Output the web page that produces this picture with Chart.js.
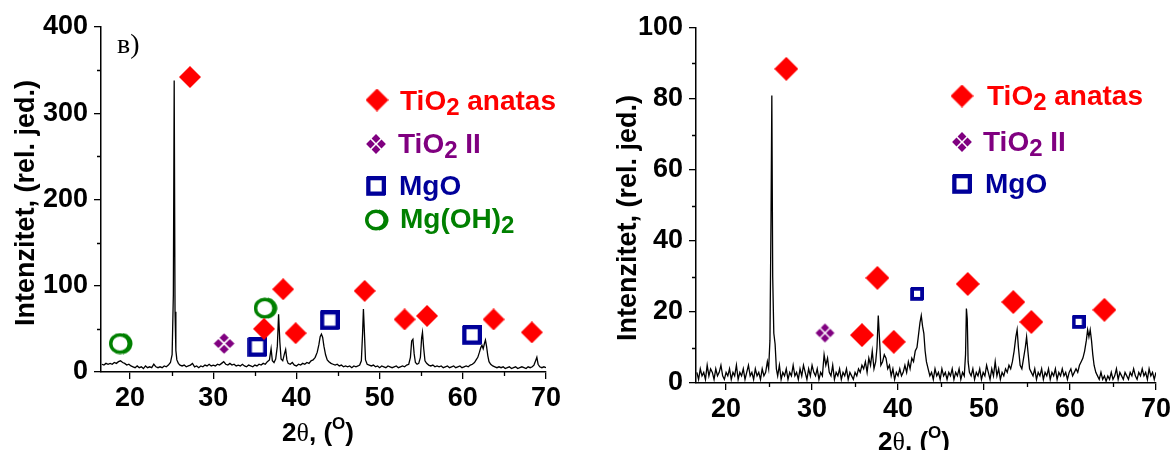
<!DOCTYPE html>
<html><head><meta charset="utf-8">
<script src="https://cdn.jsdelivr.net/npm/chart.js@4.4.0/dist/chart.umd.min.js"></script>
<style>
html,body{margin:0;padding:0;background:#fff;width:1174px;height:450px;overflow:hidden}
.p{position:absolute;top:0;height:450px}
#wl{left:0;width:590px}
#wr{left:590px;width:584px}
</style></head><body>
<div class="p" id="wl"><canvas id="cl"></canvas></div>
<div class="p" id="wr"><canvas id="cr"></canvas></div>
<script>
// ---------- axis ticks ----------
const xTicks = [20, 30, 40, 50, 60, 70];
const xMinor = [25, 35, 45, 55, 65];
const yTicksL = [0, 100, 200, 300, 400];
const yMinorL = [50, 150, 250, 350];
const yTicksR = [0, 20, 40, 60, 80, 100];
const yMinorR = [10, 30, 50, 70, 90];

// ---------- panel в) pattern ----------
const xL = [
16.6,16.85,17.1,17.35,17.6,17.85,18.1,18.35,18.6,18.85,
19.1,19.35,19.6,19.85,20.1,20.35,20.6,20.85,21.1,21.35,
21.6,21.85,22.1,22.35,22.6,22.85,23.1,23.35,23.6,23.85,
24.1,24.35,24.6,24.85,25.05,25.2,25.3,25.4,25.5,25.62,
25.8,26.0,26.25,26.5,26.75,27.0,27.25,27.5,27.75,28.0,
28.25,28.5,28.75,29.0,29.25,29.5,29.75,30.0,30.25,30.5,
30.75,31.0,31.25,31.5,31.75,32.0,32.25,32.5,32.75,33.0,
33.25,33.5,33.75,34.0,34.25,34.5,34.75,35.0,35.25,35.5,
35.75,36.0,36.25,36.5,36.75,36.95,37.1,37.3,37.5,37.7,
37.85,38.0,38.15,38.35,38.55,38.7,38.85,39.0,39.25,39.5,
39.75,40.0,40.25,40.5,40.75,41.0,41.25,41.5,41.75,42.0,
42.25,42.5,42.7,42.85,43.0,43.15,43.3,43.5,43.7,43.9,
44.15,44.4,44.65,44.9,45.15,45.4,45.65,45.9,46.15,46.4,
46.65,46.9,47.15,47.4,47.6,47.8,47.95,48.05,48.15,48.3,
48.5,48.75,49.0,49.25,49.5,49.75,50.0,50.25,50.5,50.75,
51.0,51.25,51.5,51.75,52.0,52.25,52.5,52.75,53.0,53.25,
53.5,53.7,53.85,54.0,54.15,54.3,54.5,54.7,54.9,55.05,
55.15,55.3,55.45,55.65,55.9,56.15,56.4,56.65,56.9,57.15,
57.4,57.65,57.9,58.15,58.4,58.65,58.9,59.15,59.4,59.65,
59.9,60.15,60.4,60.65,60.9,61.15,61.4,61.6,61.8,62.0,
62.15,62.3,62.45,62.6,62.72,62.85,63.0,63.15,63.35,63.6,
63.85,64.1,64.35,64.6,64.85,65.1,65.35,65.6,65.85,66.1,
66.35,66.6,66.85,67.1,67.35,67.6,67.85,68.1,68.35,68.55,
68.75,68.9,69.05,69.25,69.5,69.75,70.0];
const yL = [
9,8,10,9,10,9,11,10,12,13,
11,10,8,9,7,6,5,7,5,6,
4,7,5,6,5,9,6,5,6,5,
7,6,8,11,20,90,338,70,25,14,
10,8,7,8,6,7,8,10,6,7,
5,7,6,8,7,9,7,8,7,9,
8,10,12,9,8,10,8,9,7,8,
7,9,7,6,8,7,6,8,7,9,
8,10,9,12,14,27,13,11,15,30,
67,35,15,13,21,26,14,10,9,11,
8,7,9,8,10,9,11,10,13,14,
17,23,32,41,44,40,30,20,14,12,
10,9,8,9,7,8,6,7,6,7,
5,7,6,7,8,13,45,73,50,14,
9,8,7,8,6,7,5,7,6,5,
7,6,5,6,7,5,6,7,6,8,
9,17,36,38,21,11,9,10,17,40,
46,27,13,10,8,7,8,6,7,6,
7,5,6,7,5,6,7,5,6,7,
5,6,7,6,8,9,11,14,17,23,
28,31,27,33,37,30,19,12,9,7,
6,5,6,5,6,4,5,6,4,5,
6,4,5,6,5,4,6,5,6,8,
13,17,9,6,5,6,5];

// ---------- panel в) phase markers ----------
const anatasLx = [27.2, 36.1, 38.4, 39.9, 48.2, 53.0, 55.7, 63.7, 68.3];
const anatasLy = [342, 50, 96, 45, 94, 61, 65, 61, 46];
const tio2IILx = [31.3];
const tio2IILy = [33];
const mgoLx = [35.3, 44.0, 61.1];
const mgoLy = [29, 60, 43];
const mgohLx = [18.9, 36.3];
const mgohLy = [33, 74];

// ---------- panel г) pattern ----------
const xR = [
16.6,16.8,17.0,17.2,17.4,17.6,17.8,18.0,18.2,18.4,
18.6,18.8,19.0,19.2,19.4,19.6,19.8,20.0,20.2,20.4,
20.6,20.8,21.0,21.2,21.4,21.6,21.8,22.0,22.2,22.4,
22.6,22.8,23.0,23.2,23.4,23.6,23.8,24.0,24.2,24.4,
24.6,24.8,24.95,25.1,25.22,25.32,25.42,25.55,25.7,25.85,
26.0,26.2,26.4,26.6,26.8,27.0,27.2,27.4,27.6,27.8,
28.0,28.2,28.4,28.6,28.8,29.0,29.2,29.4,29.6,29.8,
30.0,30.2,30.4,30.6,30.8,31.0,31.2,31.4,31.6,31.8,
32.0,32.2,32.4,32.6,32.8,33.0,33.2,33.4,33.6,33.8,
34.0,34.2,34.4,34.6,34.8,35.0,35.2,35.4,35.6,35.8,
36.0,36.2,36.4,36.6,36.8,37.0,37.2,37.4,37.55,37.7,
37.85,38.0,38.2,38.4,38.6,38.8,39.0,39.2,39.4,39.6,
39.8,40.0,40.2,40.4,40.6,40.8,41.0,41.2,41.4,41.6,
41.8,42.0,42.2,42.4,42.55,42.7,42.85,43.0,43.15,43.3,
43.5,43.7,43.9,44.1,44.3,44.5,44.7,44.9,45.1,45.3,
45.5,45.7,45.9,46.1,46.3,46.5,46.7,46.9,47.1,47.3,
47.5,47.7,47.85,47.95,48.05,48.15,48.3,48.5,48.7,48.9,
49.1,49.3,49.5,49.7,49.9,50.1,50.3,50.5,50.7,50.9,
51.1,51.3,51.5,51.7,51.9,52.1,52.3,52.5,52.7,52.9,
53.1,53.3,53.5,53.7,53.85,54.0,54.2,54.4,54.6,54.8,
54.95,55.1,55.3,55.5,55.7,55.9,56.1,56.3,56.5,56.7,
56.9,57.1,57.3,57.5,57.7,57.9,58.1,58.3,58.5,58.7,
58.9,59.1,59.3,59.5,59.7,59.9,60.1,60.3,60.5,60.7,
60.9,61.1,61.3,61.5,61.7,61.9,62.05,62.2,62.35,62.5,
62.65,62.8,63.0,63.2,63.4,63.6,63.8,64.0,64.2,64.4,
64.6,64.8,65.0,65.2,65.4,65.6,65.8,66.0,66.2,66.4,
66.6,66.8,67.0,67.2,67.4,67.6,67.8,68.0,68.2,68.4,
68.6,68.8,69.0,69.2,69.4,69.6,69.8,70.0];
const yR = [
3,1,4,2,3,1,5,2,4,3,
1,4,2,3,5,2,1,3,2,4,
1,3,2,5,1,3,2,4,1,3,
5,2,3,1,4,2,3,1,4,2,
3,6,4,12,45,81,30,14,11,4,
2,5,1,3,2,4,1,3,2,5,
2,3,1,4,2,5,3,1,4,2,
5,3,2,4,1,3,2,8,5,7,
3,2,5,1,3,2,4,1,3,2,
4,1,3,2,1,3,2,4,3,5,
4,6,3,7,5,9,4,6,10,19,
12,5,6,8,7,4,5,2,4,1,
3,2,4,2,3,5,3,6,4,7,
6,9,10,14,17,19,16,14,9,6,
4,2,3,1,4,2,3,1,4,2,
3,1,3,2,4,1,3,2,4,1,
3,2,8,21,18,6,3,2,4,1,
3,2,4,1,3,2,5,3,1,4,
2,6,2,4,1,3,2,4,3,5,
4,6,9,13,15,10,5,4,7,10,
13,9,4,3,2,4,1,3,2,4,
1,3,2,4,1,3,2,4,1,3,
2,4,2,3,1,3,4,2,3,4,
3,5,6,7,9,12,15,13,15,12,
8,5,3,2,1,3,1,2,0.5,2,
1,3,1,2,4,1,3,2,1,3,
2,1,3,2,4,2,1,3,2,4,
2,3,1,4,2,3,1,3];

// ---------- panel г) phase markers ----------
const anatasRx = [27.0, 35.8, 37.6, 39.5, 48.1, 53.4, 55.5, 64.0];
const anatasRy = [88.5, 13.5, 29.6, 11.6, 27.9, 22.8, 17.2, 20.6];
const tio2IIRx = [31.5];
const tio2IIRy = [14.1];
const mgoRx = [42.2, 61.0];
const mgoRy = [25.1, 17.2];

// ---------- text ----------
const yTitle = 'Intenzitet, (rel. jed.)';
const xTitleParts = ['2', 'θ', ', (', 'O', ')'];
const legendL = [
  [{t:'TiO'},{t:'2',sub:true},{t:' anatas'}],
  [{t:'TiO'},{t:'2',sub:true},{t:' II'}],
  [{t:'MgO'}],
  [{t:'Mg(OH)'},{t:'2',sub:true}]
];
const legendR = legendL.slice(0, 3);

// ---------- styles ----------
const SANS = '"Liberation Sans", Arial, sans-serif';
const SERIF = '"Liberation Serif", "Times New Roman", serif';
const RED = '#ff0000', PURPLE = '#800080', BLUE = '#00009a', GREEN = '#008000';

function mk(w, h, fn) {
  const c = document.createElement('canvas');
  c.width = w; c.height = h;
  fn(c.getContext('2d'), w, h);
  return c;
}
function diamond(d, color) {
  return mk(d, d, (g) => {
    g.fillStyle = color; g.beginPath();
    g.moveTo(d/2, 0); g.lineTo(d, d/2); g.lineTo(d/2, d); g.lineTo(0, d/2); g.closePath(); g.fill();
  });
}
function clover(d, color) {
  return mk(d, d, (g) => {
    g.fillStyle = color;
    const s = d/4, r = s*0.8;
    [[d/2, d/2 - s],[d/2 + s, d/2],[d/2, d/2 + s],[d/2 - s, d/2]].forEach(([cx, cy]) => {
      g.beginPath(); g.moveTo(cx, cy - r); g.lineTo(cx + r, cy); g.lineTo(cx, cy + r); g.lineTo(cx - r, cy); g.closePath(); g.fill();
    });
  });
}
function square(d, lw, color) {
  return mk(d, d, (g) => {
    g.strokeStyle = color; g.lineWidth = lw;
    g.strokeRect(lw/2 + 1, lw/2, d - lw - 1, d - lw - 1);
    g.strokeRect(lw/2 + 0.2, lw/2 + 0.8, d - lw - 1, d - lw - 1);
  });
}
function ring(d, lw, color) {
  return mk(d + 2, d, (g) => {
    g.strokeStyle = color; g.lineWidth = lw;
    g.beginPath(); g.ellipse(d/2, d/2, d/2 - lw/2, d/2 - lw/2 - 0.5, 0, 0, Math.PI*2); g.stroke();
    g.beginPath(); g.ellipse(d/2 + 1.5, d/2, d/2 - lw/2, d/2 - lw/2 - 0.5, 0, -Math.PI/2.2, Math.PI/2.2); g.stroke();
  });
}

const pts = (xs, ys) => xs.map((x, i) => ({x, y: ys[i]}));
function markerSet(xs, ys, img) {
  return {type:'scatter', data: pts(xs, ys), pointStyle: img, pointRadius: 10, pointHoverRadius: 10, showLine:false, clip:false};
}
function lineSet(xs, ys) {
  return {type:'line', data: pts(xs, ys), borderColor:'#000', borderWidth:1.3, pointRadius:0, tension:0, fill:false, clip:true};
}

function drawRich(ctx, parts, x, y, size, color) {
  ctx.fillStyle = color; ctx.textAlign = 'left'; ctx.textBaseline = 'alphabetic';
  let cx = x;
  for (const p of parts) {
    const s = p.sub ? Math.round(size*0.86) : size;
    ctx.font = `bold ${s}px ${SANS}`;
    ctx.fillText(p.t, cx, y + (p.sub ? size*0.19 : 0));
    cx += ctx.measureText(p.t).width;
  }
}

function drawXTitle(ctx, cx, base) {
  const fonts = [`bold 26px ${SANS}`, `26px ${SERIF}`, `bold 26px ${SANS}`, `bold 17px ${SANS}`, `bold 26px ${SANS}`];
  const dys = [0, 0, 0, -12, 0];
  let w = 0;
  xTitleParts.forEach((t, i) => { ctx.font = fonts[i]; w += ctx.measureText(t).width; });
  let x = cx - w/2;
  ctx.fillStyle = '#000'; ctx.textAlign = 'left'; ctx.textBaseline = 'alphabetic';
  xTitleParts.forEach((t, i) => { ctx.font = fonts[i]; ctx.fillText(t, x, base + dys[i]); x += ctx.measureText(t).width; });
}

function deco(cfg) {
  return {
    id: 'deco',
    afterDraw(chart) {
      const ctx = chart.ctx, xs = chart.scales.x, ys = chart.scales.y, a = chart.chartArea;
      ctx.save();
      ctx.strokeStyle = '#000'; ctx.lineWidth = 1.3;
      ctx.beginPath();
      xMinor.forEach(v => { const p = Math.round(xs.getPixelForValue(v)) + 0.5; ctx.moveTo(p, a.bottom); ctx.lineTo(p, a.bottom + 4); });
      cfg.yMinor.forEach(v => { const p = Math.round(ys.getPixelForValue(v)) + 0.5; ctx.moveTo(a.left, p); ctx.lineTo(a.left - 4, p); });
      ctx.stroke();
      // panel label
      ctx.fillStyle = '#000'; ctx.font = `28px ${SERIF}`; ctx.textAlign = 'left'; ctx.textBaseline = 'alphabetic';
      ctx.fillText(cfg.panel, cfg.panelX, cfg.panelY);
      // y title
      ctx.save();
      ctx.translate(cfg.yTitleX, cfg.yTitleY); ctx.rotate(-Math.PI/2);
      ctx.font = `bold 27px ${SANS}`; ctx.textAlign = 'center'; ctx.textBaseline = 'middle';
      ctx.fillText(yTitle, 0, 0);
      ctx.restore();
      // x title
      drawXTitle(ctx, cfg.xTitleX, cfg.xTitleY);
      // legend
      cfg.legend.forEach((parts, i) => {
        const it = cfg.legendItems[i];
        ctx.drawImage(it.img, it.mx - it.img.width/2, it.my - it.img.height/2);
        drawRich(ctx, parts, it.tx, it.ty, 28, it.color);
      });
      ctx.restore();
    }
  };
}

function makeChart(id, cfg) {
  const tickFont = {family: SANS, size: 27, weight: 'bold'};
  const grid = {display:true, drawOnChartArea:false, drawTicks:true, tickLength:7, color:'#000', lineWidth:1.3};
  const border = {display:true, color:'#000', width:1.5};
  return new Chart(document.getElementById(id), {
    type: 'scatter',
    data: {datasets: cfg.datasets},
    options: {
      responsive: true, maintainAspectRatio: false, animation: false, devicePixelRatio: 1,
      layout: {padding: {left:0, right: cfg.padR, top: cfg.padT, bottom: 0}},
      plugins: {legend: {display:false}, tooltip: {enabled:false}},
      events: [],
      scales: {
        x: {type:'linear', min:16.5, max:70,
            afterBuildTicks: s => { s.ticks = xTicks.map(v => ({value: v})); },
            afterFit: s => { s.height = cfg.xH; },
            ticks: {font: tickFont, color:'#000', padding: 3, maxRotation: 0, autoSkip: false},
            grid, border},
        y: {type:'linear', min:0, max: cfg.yMax,
            afterBuildTicks: s => { s.ticks = cfg.yTicks.map(v => ({value: v})); },
            afterFit: s => { s.width = cfg.yW; },
            ticks: {font: tickFont, color:'#000', padding: 6, autoSkip: false},
            grid, border}
      }
    },
    plugins: [deco(cfg)]
  });
}

// left panel
const dL = diamond(22, RED), cL = clover(23, PURPLE), sL = square(20, 3.5, BLUE), oL = ring(22, 3.5, GREEN);
makeChart('cl', {
  yW: 101, padR: 44, padT: 27, xH: 78, yMax: 400, yTicks: yTicksL, yMinor: yMinorL,
  panel: 'в)', panelX: 117, panelY: 53,
  yTitleX: 27, yTitleY: 203, xTitleX: 318, xTitleY: 441,
  legend: legendL,
  legendItems: [
    {img: diamond(23, RED), mx: 377, my: 100, tx: 400, ty: 110, color: RED},
    {img: clover(22, PURPLE), mx: 376, my: 144, tx: 398, ty: 153, color: PURPLE},
    {img: square(20, 3.5, BLUE), mx: 376, my: 186, tx: 399, ty: 195, color: BLUE},
    {img: ring(22, 3.5, GREEN), mx: 377, my: 220, tx: 400, ty: 228, color: GREEN}
  ],
  datasets: [
    markerSet(anatasLx, anatasLy, dL),
    markerSet(tio2IILx, tio2IILy, cL),
    markerSet(mgoLx, mgoLy, sL),
    markerSet(mgohLx, mgohLy, oL),
    lineSet(xL, yL)
  ]
});

// right panel
const dR = diamond(24, RED), cR = clover(21, PURPLE), sR = square(14, 3, BLUE);
makeChart('cr', {
  yW: 106, padR: 18, padT: 28, xH: 67, yMax: 100, yTicks: yTicksR, yMinor: yMinorR,
  panel: 'г)', panelX: 717, panelY: 53,
  yTitleX: 39, yTitleY: 218, xTitleX: 324, xTitleY: 450,
  legend: legendR,
  legendItems: [
    {img: diamond(23, RED), mx: 372, my: 96, tx: 397, ty: 105, color: RED},
    {img: clover(22, PURPLE), mx: 372, my: 142, tx: 393, ty: 151, color: PURPLE},
    {img: square(20, 3.5, BLUE), mx: 372, my: 184, tx: 395, ty: 193, color: BLUE}
  ],
  datasets: [
    markerSet(anatasRx, anatasRy, dR),
    markerSet(tio2IIRx, tio2IIRy, cR),
    markerSet(mgoRx, mgoRy, sR),
    lineSet(xR, yR)
  ]
});
</script>
</body></html>
